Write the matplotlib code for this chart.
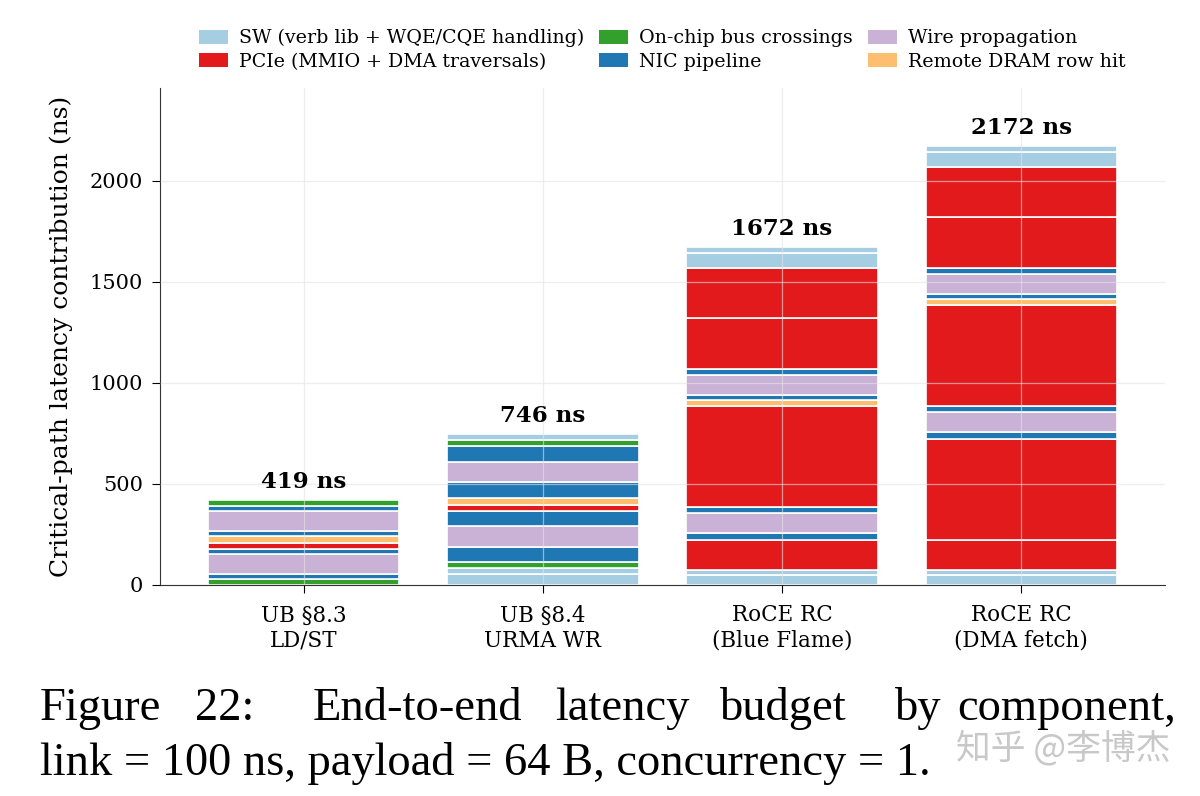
import matplotlib
matplotlib.use("Agg")
from matplotlib import pyplot as plt
from matplotlib.patches import Patch

plt.rcParams['font.family'] = ['DejaVu Serif']

# categories (legend order) and colours
cat_keys = ['sw', 'pcie', 'bus', 'nic', 'wire', 'dram']
cat_names = ['SW (verb lib + WQE/CQE handling)', 'PCIe (MMIO + DMA traversals)',
             'On-chip bus crossings', 'NIC pipeline',
             'Wire propagation', 'Remote DRAM row hit']
cat_colors = ['#a6cee3', '#e31a1c', '#33a02c', '#1f78b4', '#cab2d6', '#fdbf6f']

bar_labels = ['UB §8.3\nLD/ST', 'UB §8.4\nURMA WR', 'RoCE RC\n(Blue Flame)', 'RoCE RC\n(DMA fetch)']

# segments of each bar, bottom to top
ldst_parts = ['bus', 'nic', 'wire', 'nic', 'pcie', 'dram', 'nic', 'wire', 'nic', 'bus']
ldst_ns = [30, 25, 100, 25, 30, 32, 25, 100, 25, 27]

urma_parts = ['sw', 'sw', 'bus', 'nic', 'wire', 'nic', 'pcie', 'dram', 'nic', 'wire', 'nic', 'bus', 'sw']
urma_ns = [55, 27, 30, 78, 100, 78, 30, 32, 78, 100, 78, 32, 28]

bf_parts = ['sw', 'sw', 'pcie', 'nic', 'wire', 'nic', 'pcie', 'dram', 'nic', 'wire', 'nic',
            'pcie', 'pcie', 'sw', 'sw']
bf_ns = [50, 25, 150, 30, 100, 30, 500, 30, 25, 100, 30, 250, 250, 75, 27]

dma_parts = ['sw', 'sw', 'pcie', 'pcie', 'nic', 'wire', 'nic', 'pcie', 'dram', 'nic', 'wire', 'nic',
             'pcie', 'pcie', 'sw', 'sw']
dma_ns = [50, 25, 150, 500, 30, 100, 30, 500, 30, 25, 100, 30, 250, 250, 75, 27]

bars = [(ldst_parts, ldst_ns), (urma_parts, urma_ns), (bf_parts, bf_ns), (dma_parts, dma_ns)]
color_of = dict(zip(cat_keys, cat_colors))

fig = plt.figure(figsize=(12, 7.96), dpi=100)
ax = fig.add_axes([0.1333, 0.2651, 0.8375, 0.6243])

for i, (parts, vals) in enumerate(bars):
    bottom = 0
    for p, v in zip(parts, vals):
        ax.bar(i, v, bottom=bottom, width=0.8, color=color_of[p],
               edgecolor='white', linewidth=1.2, zorder=2)
        bottom += v
    ax.annotate(f'{sum(vals)} ns', (i, bottom), xytext=(0, 5), textcoords='offset points',
                ha='center', va='bottom', fontsize=16.5, fontweight='bold', zorder=4)

ax.set_xlim(-0.6, 3.6)
ax.set_ylim(0, 2460)
ax.set_xticks(range(len(bar_labels)))
ax.set_xticklabels(bar_labels, fontsize=15.5)
ax.set_yticks([0, 500, 1000, 1500, 2000])
ax.tick_params(axis='y', labelsize=15, length=6, pad=6)
ax.tick_params(axis='x', length=6, pad=8)
ax.set_ylabel('Critical-path latency contribution (ns)', fontsize=18, labelpad=12)
ax.grid(True, color='#e4e4e4', linewidth=0.9, alpha=0.6, zorder=3)
ax.set_axisbelow(False)
for s in ['top', 'right']:
    ax.spines[s].set_visible(False)
for s in ['left', 'bottom']:
    ax.spines[s].set_color('#333333')

handles = [Patch(facecolor=c, edgecolor='none') for c in cat_colors]
ax.legend(handles, cat_names, ncol=3, loc='lower center', bbox_to_anchor=(0.5, 1.0),
          frameon=False, fontsize=13.7, handlelength=1.5, handleheight=0.75,
          columnspacing=0.8, labelspacing=0.3, handletextpad=0.6)

# caption under the figure, justified first line
cap1 = ['Figure', '22:', 'End-to-end', 'latency', 'budget', 'by', 'component,']
cap1_x = [40, 195, 313, 555, 720, 895, 957]
for w, x in zip(cap1, cap1_x):
    fig.text(x / 1200, 1 - 720 / 796, w, family='Liberation Serif', fontsize=33.5, va='baseline')
fig.text(40 / 1200, 1 - 775 / 796, 'link = 100 ns, payload = 64 B, concurrency = 1.',
         family='Liberation Serif', fontsize=33.5, va='baseline')
fig.text(1170 / 1200, 1 - 758 / 796, '知乎 @李博杰', family=['Noto Sans CJK SC', 'DejaVu Sans'],
         fontsize=25, color='#c8c8c8', ha='right', va='baseline')

fig.savefig('out.png', dpi=100)
